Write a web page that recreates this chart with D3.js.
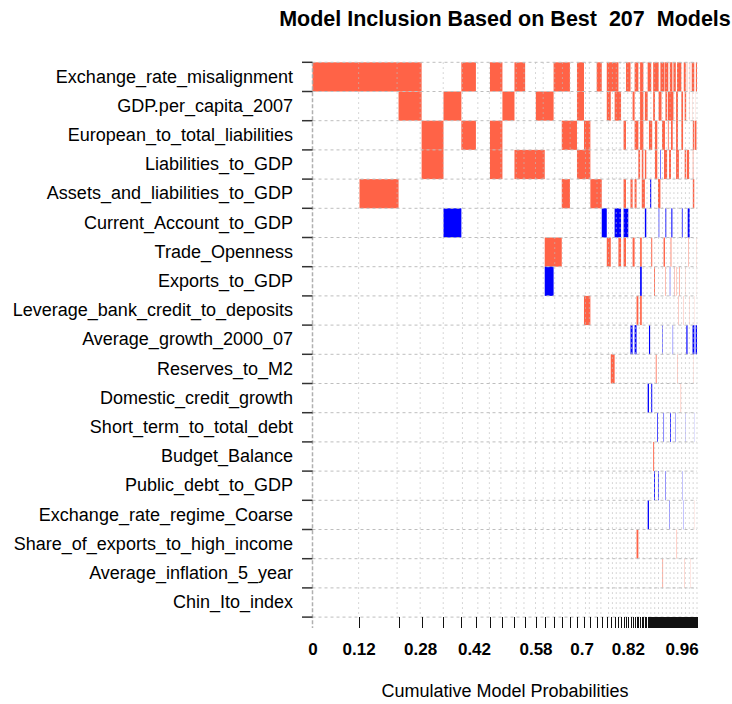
<!DOCTYPE html>
<html>
<head>
<meta charset="utf-8">
<script src="https://cdn.jsdelivr.net/npm/d3@7"></script>
<style>
  body { margin: 0; background: #fff; }
  text { font-family: "Liberation Sans", Arial, sans-serif; fill: #000; }
</style>
</head>
<body>
<svg id="chart" width="732" height="704"></svg>
<script>
var variables = [
  "Exchange_rate_misalignment", "GDP.per_capita_2007", "European_to_total_liabilities",
  "Liabilities_to_GDP", "Assets_and_liabilities_to_GDP", "Current_Account_to_GDP",
  "Trade_Openness", "Exports_to_GDP", "Leverage_bank_credit_to_deposits",
  "Average_growth_2000_07", "Reserves_to_M2", "Domestic_credit_growth",
  "Short_term_to_total_debt", "Budget_Balance", "Public_debt_to_GDP",
  "Exchange_rate_regime_Coarse", "Share_of_exports_to_high_income",
  "Average_inflation_5_year", "Chin_Ito_index"
];

// posterior model probabilities (percent) of the best 207 models
var modelProbs = [
  12.14, 10.09, 5.96, 5.65, 4.62, 3.76, 3.63, 3.22, 3.11, 2.76, 2.76, 2.30, 2.29, 2.11, 2.11, 1.82,
  1.81, 1.65, 1.64, 1.30, 1.30, 1.03, 1.00, 0.98,
  0.68, 0.65, 0.62, 0.60, 0.57, 0.54, 0.52, 0.50, 0.47, 0.45, 0.43, 0.41, 0.39, 0.37, 0.35, 0.34,
  0.30, 0.28, 0.26, 0.25, 0.24, 0.22, 0.21, 0.20, 0.19, 0.18, 0.17, 0.16,
  0.15, 0.15, 0.14, 0.14, 0.14, 0.13, 0.13, 0.13, 0.12, 0.12, 0.12, 0.12, 0.11, 0.11, 0.11, 0.11,
  0.10, 0.10, 0.10, 0.10,
  0.10, 0.10, 0.10, 0.10, 0.10, 0.10, 0.09, 0.09, 0.09, 0.09, 0.09, 0.09, 0.09, 0.09, 0.09, 0.09,
  0.09, 0.09, 0.08, 0.08, 0.08, 0.08, 0.08, 0.08, 0.08, 0.08, 0.08, 0.08, 0.08, 0.08,
  0.07, 0.07, 0.07, 0.07, 0.07, 0.07, 0.07, 0.07, 0.07, 0.07, 0.07, 0.07, 0.06, 0.06, 0.06, 0.06,
  0.06, 0.06, 0.06, 0.06, 0.06, 0.06, 0.06, 0.06, 0.06, 0.06, 0.05, 0.05, 0.05, 0.05, 0.05, 0.05,
  0.05, 0.05, 0.05, 0.05, 0.05, 0.05, 0.05, 0.05,
  0.05, 0.05, 0.05, 0.05, 0.05, 0.05, 0.05, 0.05, 0.05, 0.05, 0.04, 0.04, 0.04, 0.04, 0.04, 0.04,
  0.04, 0.04, 0.04, 0.04, 0.04, 0.04, 0.04, 0.04, 0.04, 0.04, 0.04, 0.04, 0.04, 0.04, 0.04, 0.04,
  0.04, 0.04, 0.04, 0.03, 0.03, 0.03, 0.03, 0.03, 0.03, 0.03, 0.03, 0.03, 0.03, 0.03, 0.03, 0.03,
  0.03, 0.03, 0.03, 0.03, 0.03, 0.03, 0.03, 0.02, 0.02, 0.02, 0.02, 0.02, 0.02, 0.02, 0.02, 0.02,
  0.02
];

// runs of models [first, last] (1-based) where a variable enters with positive sign
var positiveRuns = [
  [[1,3],[6,6],[8,8],[10,10],[14,15],[17,17],[20,20],[22,24],[28,29],[32,33],[35,36],[40,42],[45,51],[55,62],[64,71],[76,82],[86,92],[97,111],[122,130],[135,135],[140,140],[150,150],[155,155],[164,180],[195,207]],
  [[3,3],[5,5],[9,9],[12,13],[17,17],[22,22],[24,25],[31,31],[35,36],[38,39],[45,46],[52,56],[65,68],[71,85],[94,99],[112,118],[126,132],[150,150],[170,170],[190,190]],
  [[4,4],[6,6],[8,8],[15,16],[18,18],[27,27],[32,33],[35,36],[41,43],[47,49],[58,63],[71,72],[79,83],[94,99],[112,118],[171,180],[186,200]],
  [[4,4],[8,8],[10,12],[17,18],[34,34],[36,36],[38,38],[47,49],[62,68],[74,78],[94,102],[126,132],[137,147],[171,173]],
  [[2,2],[15,15],[19,20],[27,27],[30,30],[32,32],[36,37],[51,54],[171,180]],
  [],
  [[13,14],[22,22],[25,25],[27,27],[31,31],[35,35],[43,43],[61,63],[77,77],[80,80],[144,145],[205,206]],
  [[46,46],[65,65],[88,88],[95,95],[104,104],[106,106],[129,129],[207,207]],
  [[18,18],[33,33],[35,35],[101,101],[119,119],[151,151],[181,181]],
  [],
  [[23,23],[48,48],[98,98],[176,176]],
  [[110,110]],
  [],
  [[45,45]],
  [],
  [[186,186]],
  [[33,33],[96,96]],
  [[59,59],[126,126],[156,156]],
  []
];

// runs of models where a variable enters with negative sign
var negativeRuns = [
  [], [], [], [[55,55]], [[42,42]],
  [[5,5],[21,21],[24,25],[27,28],[38,38],[52,52],[65,66],[80,82],[114,116],[141,150]],
  [],
  [[13,13],[35,35],[76,76]],
  [],
  [[30,30],[32,32],[41,41],[58,58],[84,84],[134,139],[169,181],[193,207]],
  [],
  [[40,40],[43,43]],
  [[50,50],[61,61],[77,78],[91,91],[130,130],[181,181]],
  [],
  [[46,46],[51,51],[65,65],[115,115]],
  [[40,40],[74,74],[121,121]],
  [], [], []
];

var tickLabels = [0, 0.12, 0.28, 0.42, 0.58, 0.7, 0.82, 0.96];
var nModels = modelProbs.length;

var svg = d3.select("#chart");

var total = d3.sum(modelProbs);
var cumEnd = Array.from(d3.cumsum(modelProbs), function (c) { return c / total; });
var cumStart = [0].concat(cumEnd.slice(0, -1));
var boundaries = [0].concat(cumEnd);
// grid lines sit on the cumulative probabilities rounded to two digits
var gridX = Array.from(new Set(boundaries.map(function (b) { return Math.round(b * 100) / 100; })));

var x = d3.scaleLinear().domain([0, 1]).range([312.5, 697]);
var y = d3.scaleBand().domain(variables).range([62.3, 617.1]);

var blocks = [];
variables.forEach(function (v, i) {
  positiveRuns[i].forEach(function (r) { blocks.push({ v: v, first: r[0], last: r[1], sign: 1 }); });
  negativeRuns[i].forEach(function (r) { blocks.push({ v: v, first: r[0], last: r[1], sign: -1 }); });
});

svg.append("g")
  .selectAll("rect")
  .data(blocks)
  .enter()
  .append("rect")
  .attr("x", function (d) { return x(cumStart[d.first - 1]); })
  .attr("width", function (d) { return x(cumEnd[d.last - 1]) - x(cumStart[d.first - 1]); })
  .attr("y", function (d) { return y(d.v); })
  .attr("height", y.bandwidth())
  .attr("fill", function (d) { return d.sign > 0 ? "tomato" : "blue"; });

// dotted grid at rounded cumulative probabilities
svg.append("g")
  .selectAll("line")
  .data(gridX.slice(1))
  .enter()
  .append("line")
  .attr("x1", function (d) { return x(d); })
  .attr("x2", function (d) { return x(d); })
  .attr("y1", y.range()[0])
  .attr("y2", y.range()[1])
  .attr("stroke", "#bebebe")
  .attr("stroke-opacity", 0.8)
  .attr("stroke-dasharray", "1.5,3.5");

// dashed lines at row boundaries
var rowEdges = variables.map(function (v) { return y(v); }).concat([y.range()[1]]);
svg.append("g")
  .selectAll("line")
  .data(rowEdges)
  .enter()
  .append("line")
  .attr("x1", x(0))
  .attr("x2", x(1))
  .attr("y1", function (d) { return d; })
  .attr("y2", function (d) { return d; })
  .attr("stroke", "#bebebe")
  .attr("stroke-dasharray", "3,3");

// left axis line
svg.append("line")
  .attr("x1", x(0)).attr("x2", x(0))
  .attr("y1", y.range()[0]).attr("y2", 628)
  .attr("stroke", "#b0b0b0")
  .attr("stroke-width", 1.5)
  .attr("stroke-dasharray", "4,2");

// left ticks at row edges
svg.append("g")
  .selectAll("line")
  .data(rowEdges)
  .enter()
  .append("line")
  .attr("x1", x(0) - 10.5)
  .attr("x2", x(0))
  .attr("y1", function (d) { return d; })
  .attr("y2", function (d) { return d; })
  .attr("stroke", "#333")
  .attr("stroke-width", 1.5);

// variable labels
var yAxis = svg.append("g")
  .attr("transform", "translate(" + x(0) + ",0)")
  .call(d3.axisLeft(y).tickSize(0).tickPadding(19.5));
yAxis.select(".domain").remove();
yAxis.selectAll("text")
  .style("font-family", "'Liberation Sans', Arial, sans-serif")
  .style("font-size", "18px")
  .attr("fill", "#000");

// bottom ticks at model boundaries
var xTicks = svg.append("g")
  .attr("transform", "translate(0," + y.range()[1] + ")")
  .call(d3.axisBottom(x).tickValues(boundaries.slice(1)).tickSize(11).tickFormat(""));
xTicks.select(".domain").remove();
xTicks.selectAll("line")
  .attr("stroke", "#111")
  .attr("stroke-width", 1)
  .attr("shape-rendering", "crispEdges");

// cumulative probability labels
var xLabels = svg.append("g")
  .attr("transform", "translate(0," + y.range()[1] + ")")
  .call(d3.axisBottom(x).tickValues(tickLabels).tickSize(0).tickPadding(26).tickFormat(String));
xLabels.select(".domain").remove();
xLabels.selectAll("text")
  .style("font-family", "'Liberation Sans', Arial, sans-serif")
  .style("font-size", "17px")
  .style("font-weight", "bold")
  .attr("fill", "#000");

// title
svg.append("text")
  .attr("x", 505)
  .attr("y", 26)
  .attr("text-anchor", "middle")
  .style("font-size", "21.5px")
  .style("font-weight", "bold")
  .style("white-space", "pre")
  .text("Model Inclusion Based on Best  " + nModels + "  Models");

// x axis title
svg.append("text")
  .attr("x", 505)
  .attr("y", 697)
  .attr("text-anchor", "middle")
  .style("font-size", "18px")
  .text("Cumulative Model Probabilities");
</script>
</body>
</html>
